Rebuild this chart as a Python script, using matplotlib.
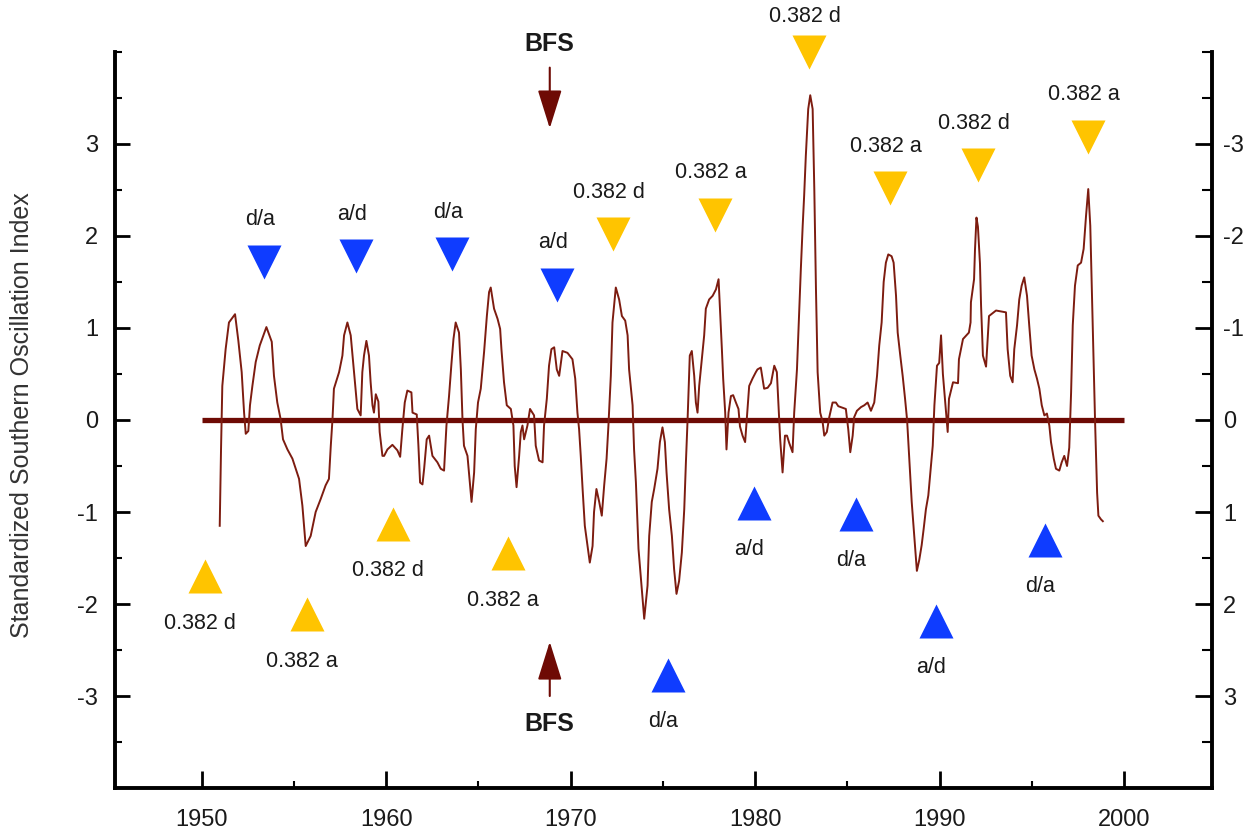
import matplotlib
matplotlib.use("Agg")
import matplotlib.pyplot as plt
from matplotlib.ticker import MultipleLocator

plt.rcParams['font.family'] = ['Liberation Sans', 'DejaVu Sans']
plt.rcParams['axes.unicode_minus'] = False

# smoothed SOI trace
soi_years = [
    1950.98, 1951.05, 1951.12, 1951.30, 1951.48, 1951.81, 1951.99, 1952.17, 1952.30, 1952.39,
    1952.53, 1952.62, 1952.75, 1952.93, 1953.15, 1953.51, 1953.80, 1953.92, 1954.10, 1954.28,
    1954.41, 1954.65, 1954.92, 1955.10, 1955.28, 1955.46, 1955.64, 1955.91, 1956.18, 1956.45,
    1956.72, 1956.90, 1957.00, 1957.09, 1957.17, 1957.45, 1957.63, 1957.72, 1957.90, 1958.08,
    1958.26, 1958.44, 1958.62, 1958.71, 1958.80, 1958.93, 1959.07, 1959.16, 1959.26, 1959.34,
    1959.44, 1959.58, 1959.65, 1959.80, 1959.89, 1960.07, 1960.34, 1960.61, 1960.76, 1960.88,
    1961.01, 1961.15, 1961.37, 1961.43, 1961.66, 1961.75, 1961.84, 1961.97, 1962.06, 1962.20,
    1962.33, 1962.51, 1962.78, 1962.96, 1963.14, 1963.27, 1963.41, 1963.54, 1963.65, 1963.77,
    1963.95, 1964.05, 1964.14, 1964.22, 1964.41, 1964.50, 1964.63, 1964.77, 1964.86, 1964.98,
    1965.13, 1965.31, 1965.46, 1965.58, 1965.67, 1965.85, 1966.04, 1966.18, 1966.25, 1966.39,
    1966.54, 1966.76, 1966.90, 1966.97, 1967.07, 1967.21, 1967.30, 1967.39, 1967.48, 1967.66,
    1967.80, 1968.02, 1968.11, 1968.29, 1968.48, 1968.56, 1968.71, 1968.83, 1968.96, 1969.11,
    1969.25, 1969.38, 1969.56, 1969.83, 1970.10, 1970.25, 1970.37, 1970.46, 1970.55, 1970.65,
    1970.77, 1970.92, 1971.04, 1971.19, 1971.27, 1971.40, 1971.55, 1971.69, 1971.82, 1971.95,
    1972.05, 1972.18, 1972.27, 1972.45, 1972.63, 1972.78, 1972.96, 1973.09, 1973.17, 1973.36,
    1973.44, 1973.54, 1973.68, 1973.86, 1973.99, 1974.17, 1974.26, 1974.40, 1974.53, 1974.71,
    1974.84, 1974.98, 1975.11, 1975.20, 1975.34, 1975.49, 1975.61, 1975.74, 1975.88, 1976.03,
    1976.16, 1976.25, 1976.34, 1976.39, 1976.46, 1976.57, 1976.70, 1976.79, 1976.88, 1976.97,
    1977.06, 1977.24, 1977.33, 1977.51, 1977.70, 1977.88, 1978.02, 1978.09, 1978.20, 1978.27,
    1978.38, 1978.45, 1978.56, 1978.69, 1978.81, 1978.96, 1979.10, 1979.18, 1979.32, 1979.46,
    1979.59, 1979.68, 1979.86, 1980.04, 1980.13, 1980.31, 1980.49, 1980.68, 1980.86, 1981.04,
    1981.18, 1981.25, 1981.36, 1981.49, 1981.62, 1981.73, 1981.85, 1982.03, 1982.12, 1982.27,
    1982.39, 1982.48, 1982.58, 1982.66, 1982.75, 1982.88, 1982.99, 1983.12, 1983.21, 1983.30,
    1983.39, 1983.53, 1983.66, 1983.75, 1983.89, 1984.02, 1984.20, 1984.38, 1984.51, 1984.65,
    1984.92, 1985.05, 1985.16, 1985.29, 1985.37, 1985.52, 1985.74, 1985.92, 1986.10, 1986.28,
    1986.46, 1986.61, 1986.73, 1986.86, 1986.97, 1987.09, 1987.22, 1987.40, 1987.51, 1987.64,
    1987.73, 1987.87, 1988.00, 1988.13, 1988.24, 1988.36, 1988.49, 1988.64, 1988.77, 1988.90,
    1989.03, 1989.14, 1989.26, 1989.39, 1989.53, 1989.63, 1989.72, 1989.86, 1989.98, 1990.08,
    1990.18, 1990.44, 1990.51, 1990.73, 1991.00, 1991.05, 1991.27, 1991.59, 1991.68, 1991.70,
    1991.87, 1991.92, 1992.00, 1992.08, 1992.19, 1992.25, 1992.35, 1992.52, 1992.68, 1993.06,
    1993.60, 1993.69, 1993.83, 1993.96, 1994.05, 1994.20, 1994.32, 1994.45, 1994.59, 1994.74,
    1994.86, 1994.99, 1995.14, 1995.28, 1995.41, 1995.54, 1995.68, 1995.82, 1995.95, 1996.04,
    1996.19, 1996.31, 1996.49, 1996.62, 1996.76, 1996.91, 1997.03, 1997.13, 1997.22, 1997.34,
    1997.49, 1997.67, 1997.81, 1997.94, 1998.06, 1998.17, 1998.30, 1998.43, 1998.54, 1998.61,
    1998.75, 1998.85,
]
soi_values = [
    -1.15, -0.32, 0.37, 0.77, 1.06, 1.15, 0.86, 0.52, 0.08, -0.15,
    -0.12, 0.16, 0.37, 0.63, 0.81, 1.01, 0.85, 0.48, 0.19, 0.01,
    -0.21, -0.32, -0.42, -0.53, -0.64, -0.93, -1.37, -1.26, -1.00, -0.86,
    -0.71, -0.64, -0.28, 0.00, 0.34, 0.52, 0.70, 0.92, 1.06, 0.92,
    0.52, 0.12, 0.05, 0.52, 0.70, 0.86, 0.70, 0.41, 0.16, 0.08,
    0.28, 0.20, -0.13, -0.39, -0.39, -0.32, -0.27, -0.33, -0.40, -0.10,
    0.19, 0.32, 0.30, 0.08, 0.06, -0.28, -0.68, -0.70, -0.53, -0.21,
    -0.17, -0.39, -0.46, -0.53, -0.55, -0.06, 0.26, 0.61, 0.88, 1.06,
    0.95, 0.55, 0.00, -0.28, -0.39, -0.60, -0.89, -0.57, -0.10, 0.19,
    0.34, 0.74, 1.13, 1.39, 1.44, 1.21, 1.10, 0.99, 0.77, 0.41,
    0.16, 0.12, -0.06, -0.50, -0.73, -0.39, -0.13, -0.06, -0.21, -0.06,
    0.12, 0.05, -0.28, -0.44, -0.46, -0.06, 0.23, 0.59, 0.77, 0.79,
    0.55, 0.48, 0.75, 0.73, 0.66, 0.45, 0.08, -0.10, -0.39, -0.75,
    -1.15, -1.37, -1.55, -1.37, -1.00, -0.75, -0.89, -1.04, -0.71, -0.42,
    -0.06, 0.48, 1.06, 1.44, 1.31, 1.13, 1.08, 0.92, 0.55, 0.16,
    -0.32, -0.68, -1.40, -1.84, -2.16, -1.80, -1.26, -0.89, -0.75, -0.53,
    -0.24, -0.08, -0.24, -0.57, -0.97, -1.26, -1.62, -1.89, -1.75, -1.44,
    -0.97, -0.46, 0.00, 0.30, 0.70, 0.75, 0.48, 0.19, 0.08, 0.37,
    0.55, 0.92, 1.21, 1.31, 1.35, 1.42, 1.53, 1.24, 0.77, 0.45,
    0.08, -0.32, 0.08, 0.26, 0.27, 0.19, 0.12, -0.07, -0.17, -0.24,
    0.12, 0.37, 0.45, 0.52, 0.55, 0.57, 0.34, 0.35, 0.40, 0.59,
    0.52, 0.23, -0.21, -0.57, -0.17, -0.17, -0.25, -0.35, 0.08, 0.55,
    1.17, 1.64, 2.11, 2.44, 2.87, 3.38, 3.53, 3.38, 2.51, 1.42,
    0.52, 0.08, -0.02, -0.17, -0.13, 0.03, 0.19, 0.19, 0.15, 0.14,
    0.12, -0.10, -0.35, -0.17, 0.03, 0.10, 0.14, 0.16, 0.19, 0.10,
    0.19, 0.48, 0.81, 1.06, 1.50, 1.71, 1.80, 1.78, 1.71, 1.35,
    0.95, 0.70, 0.48, 0.23, 0.00, -0.42, -0.89, -1.29, -1.64, -1.52,
    -1.36, -1.18, -0.97, -0.82, -0.50, -0.28, 0.16, 0.59, 0.62, 0.92,
    0.50, -0.13, 0.23, 0.41, 0.40, 0.66, 0.88, 0.95, 1.06, 1.28,
    1.53, 1.85, 2.20, 2.10, 1.70, 1.24, 0.70, 0.58, 1.13, 1.19,
    1.17, 0.77, 0.48, 0.41, 0.77, 1.03, 1.31, 1.46, 1.55, 1.35,
    1.03, 0.70, 0.55, 0.45, 0.34, 0.16, 0.05, 0.07, -0.06, -0.24,
    -0.42, -0.53, -0.55, -0.46, -0.39, -0.50, -0.30, 0.30, 1.03, 1.46,
    1.68, 1.71, 1.86, 2.22, 2.51, 2.11, 1.06, -0.02, -0.79, -1.04,
    -1.08, -1.10,
]

baseline_years = [1950, 2000]

# markers pointing down (label above)
down_years = [1953.36, 1958.35, 1963.56, 1969.25, 1972.29, 1977.82, 1982.92, 1987.31, 1992.08, 1998.05]
down_values = [1.72, 1.78, 1.80, 1.47, 2.02, 2.23, 4.00, 2.52, 2.77, 3.08]
down_labels = ["d/a", "a/d", "d/a", "a/d", "0.382 d", "0.382 a", "0.382 d", "0.382 a", "0.382 d", "0.382 a"]
down_kind = ["blue", "blue", "blue", "blue", "gold", "gold", "gold", "gold", "gold", "gold"]

# markers pointing up (label below)
up_years = [1950.16, 1955.69, 1960.36, 1966.59, 1975.27, 1979.93, 1985.47, 1989.80, 1995.72]
up_values = [-1.70, -2.11, -1.13, -1.45, -2.77, -0.90, -1.02, -2.18, -1.30]
up_labels = ["0.382 d", "0.382 a", "0.382 d", "0.382 a", "d/a", "a/d", "d/a", "a/d", "d/a"]
up_kind = ["gold", "gold", "gold", "gold", "blue", "blue", "blue", "blue", "blue"]

bfs_year = 1968.87

colors = {"blue": "#0f3cff", "gold": "#ffc400"}
dark_red = "#6e0a04"
line_red = "#7d1c10"
txt = "#1a1a1a"

fig = plt.figure(figsize=(12.59, 8.33), dpi=100)
ax = fig.add_axes([0.0913, 0.0540, 0.8714, 0.8836])

ax.plot(baseline_years, [0, 0], color=dark_red, lw=3.8, solid_capstyle='butt', zorder=2)
ax.plot(soi_years, soi_values, color=line_red, lw=1.4, zorder=3)

for x, y, lab, k in zip(down_years, down_values, down_labels, down_kind):
    ax.plot(x, y, marker='v', ms=25, color=colors[k], mec='none', ls='none',
            clip_on=False, zorder=4)
    # the top one sits against the frame, its label is squeezed a bit
    dy = 35 if y > 3.9 else 42
    ax.annotate(lab, (x, y), xytext=(-4, dy), textcoords='offset pixels',
                ha='center', va='center', fontsize=15.5, color=txt,
                annotation_clip=False)

for x, y, lab, k in zip(up_years, up_values, up_labels, up_kind):
    ax.plot(x, y, marker='^', ms=25, color=colors[k], mec='none', ls='none',
            clip_on=False, zorder=4)
    ax.annotate(lab, (x, y), xytext=(-5, -47), textcoords='offset pixels',
                ha='center', va='center', fontsize=15.5, color=txt,
                annotation_clip=False)

# BFS arrows
arrow_style = '-|>,head_length=2.4,head_width=0.75'
ax.annotate('', xy=(bfs_year, 3.17), xytext=(bfs_year, 3.83),
            arrowprops=dict(arrowstyle=arrow_style, color=dark_red, lw=1.5,
                            shrinkA=0, shrinkB=0),
            annotation_clip=False)
ax.annotate('', xy=(bfs_year, -2.41), xytext=(bfs_year, -3.0),
            arrowprops=dict(arrowstyle=arrow_style, color=dark_red, lw=1.5,
                            shrinkA=0, shrinkB=0),
            annotation_clip=False)
ax.text(bfs_year, 4.09, "BFS", ha='center', va='center', fontsize=18,
        fontweight='bold', color=txt, clip_on=False)
ax.text(bfs_year, -3.30, "BFS", ha='center', va='center', fontsize=18,
        fontweight='bold', color=txt, clip_on=False)

ax.set_xlim(1945.3, 2004.77)
ax.set_ylim(-4, 4)
ax.set_xticks([1950, 1960, 1970, 1980, 1990, 2000])
ax.xaxis.set_minor_locator(MultipleLocator(5))
ax.set_yticks([-3, -2, -1, 0, 1, 2, 3])
ax.yaxis.set_minor_locator(MultipleLocator(0.5))
ax.tick_params(axis='x', which='major', direction='in', length=12, width=2,
               pad=15, labelsize=17, labelcolor=txt)
ax.tick_params(axis='x', which='minor', direction='in', length=5, width=1.5)
ax.tick_params(axis='y', which='major', direction='in', length=11, width=2,
               pad=12, labelsize=17, labelcolor=txt)
ax.tick_params(axis='y', which='minor', direction='in', length=5, width=1.5)

for s in ['left', 'bottom']:
    ax.spines[s].set_linewidth(2.8)
ax.spines['top'].set_visible(False)
ax.spines['right'].set_visible(False)

ax2 = ax.twinx()
ax2.set_ylim(4, -4)
ax2.set_yticks([-3, -2, -1, 0, 1, 2, 3])
ax2.yaxis.set_minor_locator(MultipleLocator(0.5))
ax2.tick_params(axis='y', which='major', direction='in', length=12, width=2,
                pad=8, labelsize=17, labelcolor=txt)
ax2.tick_params(axis='y', which='minor', direction='in', length=7, width=1.5)
for s in ['left', 'top', 'bottom']:
    ax2.spines[s].set_visible(False)
ax2.spines['right'].set_linewidth(2.8)

fig.text(0.0175, 0.502, "Standardized Southern Oscillation Index", rotation=90,
         ha='center', va='center', fontsize=18, color='#333333')

fig.savefig("out.png", dpi=100)
